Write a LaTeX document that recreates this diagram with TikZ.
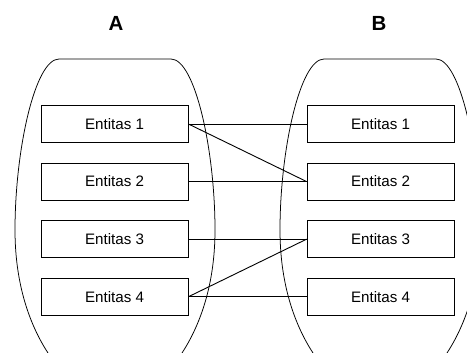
\documentclass[tikz,border=0pt]{standalone}
\usepackage{fontspec}
\setmainfont{Liberation Sans}
\usetikzlibrary{positioning}
\tikzset{
  entbox/.style={rectangle,draw,line width=0.6pt,minimum width=97pt,minimum height=24.4pt,inner sep=0pt,font=\fontsize{10}{12}\selectfont},
  setlabel/.style={font=\fontsize{13.5}{16}\selectfont\bfseries},
  link/.style={line width=0.6pt},
  setbody/.pic={
    \draw[line width=0.5pt] (-67,123) .. controls (-82,100) and (-100,60) .. (-100,0)
      .. controls (-100,-80) and (-80,-171) .. (-56,-171) -- (56,-171)
      .. controls (80,-171) and (100,-80) .. (100,0)
      .. controls (100,60) and (82,100) .. (67,123);
  }
}
\begin{document}
\begin{tikzpicture}[x=0.66pt,y=-0.66pt]
  \useasboundingbox (0,0) rectangle (467,353);
  \clip (0,0) rectangle (467,353);
  % the two sets
  \pic at (115,230) {setbody};
  \pic at (380,230) {setbody};
  \node[setlabel] (la) at (116,23) {A};
  \node[setlabel] (lb) at (379,23) {B};
  % entities of A
  \node[entbox] (a1) at (114.5,124) {Entitas 1};
  \node[entbox,below=13pt of a1] (a2) {Entitas 2};
  \node[entbox,below=13pt of a2] (a3) {Entitas 3};
  \node[entbox,below=13pt of a3] (a4) {Entitas 4};
  % entities of B
  \node[entbox,right=78pt of a1] (b1) {Entitas 1};
  \node[entbox,right=78pt of a2] (b2) {Entitas 2};
  \node[entbox,right=78pt of a3] (b3) {Entitas 3};
  \node[entbox,right=78pt of a4] (b4) {Entitas 4};
  % relations
  \foreach \i in {1,2,3,4}
    \draw[link] (a\i.east) -- (b\i.west);
  \draw[link] (a1.east) -- (b2.west);
  \draw[link] (a4.east) -- (b3.west);
\end{tikzpicture}
\end{document}
